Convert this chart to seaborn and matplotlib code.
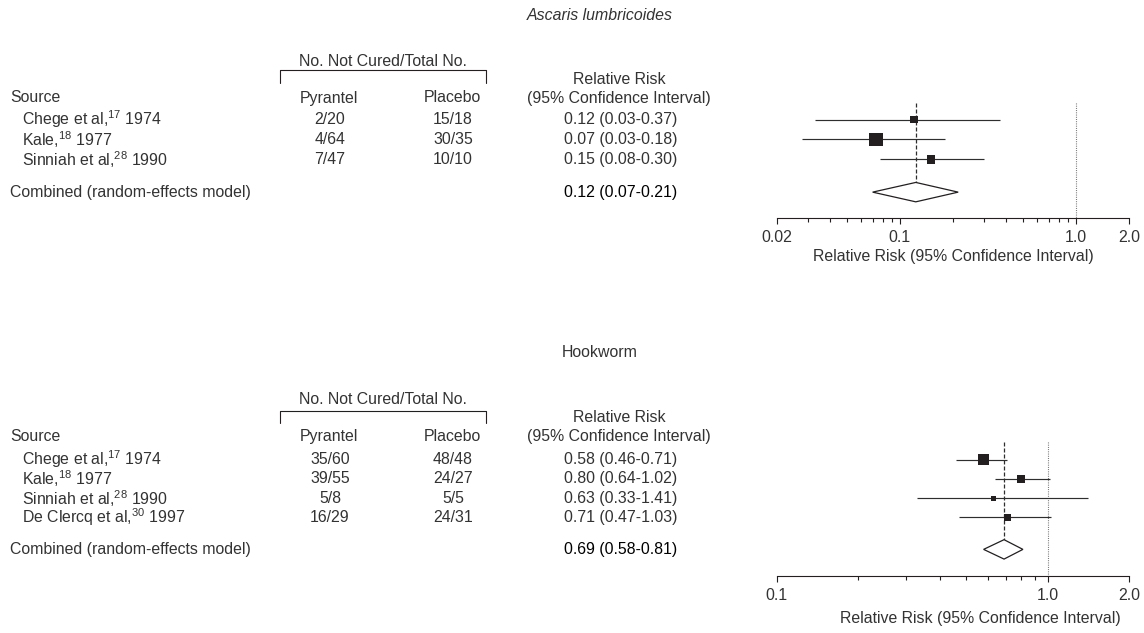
import numpy as np
import pandas as pd
import matplotlib
matplotlib.use("Agg")
import matplotlib.pyplot as plt
import seaborn as sns
from matplotlib.patches import Polygon
from matplotlib.lines import Line2D
from matplotlib.transforms import blended_transform_factory
from matplotlib.ticker import FixedLocator, FixedFormatter, NullFormatter

# ---------------- data ----------------
asc_title = "Ascaris lumbricoides"
asc_sources = ["Chege et al,$^{\\mathregular{17}}$ 1974",
               "Kale,$^{\\mathregular{18}}$ 1977",
               "Sinniah et al,$^{\\mathregular{28}}$ 1990"]
asc_pyrantel = ["2/20", "4/64", "7/47"]
asc_placebo = ["15/18", "30/35", "10/10"]
asc_rr = [0.12, 0.073, 0.15]
asc_lo = [0.033, 0.028, 0.077]
asc_hi = [0.37, 0.18, 0.30]
asc_weight = [18, 58, 24]
asc_comb_rr, asc_comb_lo, asc_comb_hi = 0.123, 0.07, 0.214
asc_major = [0.02, 0.1, 1.0, 2.0]
asc_major_labels = ["0.02", "0.1", "1.0", "2.0"]
asc_minor = [0.03, 0.04, 0.05, 0.06, 0.07, 0.08, 0.09,
             0.2, 0.3, 0.4, 0.5, 0.6, 0.7, 0.8, 0.9]

hook_title = "Hookworm"
hook_sources = ["Chege et al,$^{\\mathregular{17}}$ 1974",
                "Kale,$^{\\mathregular{18}}$ 1977",
                "Sinniah et al,$^{\\mathregular{28}}$ 1990",
                "De Clercq et al,$^{\\mathregular{30}}$ 1997"]
hook_pyrantel = ["35/60", "39/55", "5/8", "16/29"]
hook_placebo = ["48/48", "24/27", "5/5", "24/31"]
hook_rr = [0.58, 0.80, 0.63, 0.71]
hook_lo = [0.46, 0.64, 0.33, 0.47]
hook_hi = [0.71, 1.02, 1.41, 1.03]
hook_weight = [46, 26, 9, 20]
hook_comb_rr, hook_comb_lo, hook_comb_hi = 0.69, 0.58, 0.81
hook_major = [0.1, 1.0, 2.0]
hook_major_labels = ["0.1", "1.0", "2.0"]
hook_minor = [0.2, 0.3, 0.4, 0.5, 0.6, 0.7, 0.8, 0.9]

# ---------------- style ----------------
sns.set_theme(style="white")
plt.rcParams["font.family"] = ["Liberation Sans", "DejaVu Sans"]
plt.rcParams["mathtext.fontset"] = "custom"
plt.rcParams["mathtext.rm"] = "Liberation Sans"
INK = "#231f20"
TXT = "#333333"
LINE = "#2e2e2e"
FS = 11.4

W, H = 1144, 633
fig = plt.figure(figsize=(W / 100, H / 100), dpi=100)
fig.patch.set_facecolor("white")


def fx(px):
    return px / W


def fy(py):
    return 1 - py / H


def panel(title, title_italic, sources, pyr, pla, rr, lo, hi, weight,
          comb, major, major_labels, minor, lay):
    x0, x1 = lay["x0"], lay["x1"]
    top, spine = lay["top"], lay["spine"]
    row0, step = lay["row0"], lay["step"]
    ax = fig.add_axes([fx(x0), fy(spine), fx(x1) - fx(x0), (spine - top) / H])
    ax.set_facecolor("none")
    ax.set_xscale("log")
    ax.set_xlim(major[0], major[-1])
    ax.set_ylim((spine - row0) / step, (top - row0) / step)

    n = len(rr)
    rows = np.arange(n)
    comb_y = n - 1 + 1.65
    half = 9.7 / step

    # confidence intervals
    ax.hlines(rows, lo, hi, color=LINE, lw=0.85, zorder=2)
    # study squares (area proportional to weight)
    df = pd.DataFrame({"rr": rr, "row": rows, "w": weight})
    areas = df["w"].values * lay["kscale"] * 0.72 ** 2
    sns.scatterplot(data=df, x="rr", y="row", marker="s", s=areas,
                    color=INK, linewidth=0, ax=ax, legend=False, zorder=3)
    # combined diamond
    crr, clo, chi = comb
    ax.add_patch(Polygon([(clo, comb_y), (crr, comb_y - half),
                          (chi, comb_y), (crr, comb_y + half)],
                         closed=True, facecolor="white", edgecolor=INK,
                         lw=0.9, zorder=3))
    ylim_top = ax.get_ylim()[1]
    ax.vlines(crr, ylim_top, comb_y - half, color=LINE, lw=0.9,
              linestyles=(0, (3.2, 1.6)), zorder=1)
    ax.vlines(1.0, ylim_top, ax.get_ylim()[0], color="#666666", lw=0.8,
              linestyles=(0, (0.8, 1.2)), zorder=1)

    # axes styling
    for s in ["left", "top", "right"]:
        ax.spines[s].set_visible(False)
    ax.spines["bottom"].set_color(INK)
    ax.spines["bottom"].set_linewidth(0.8)
    ax.set_yticks([])
    ax.set_ylabel("")
    ax.xaxis.set_major_locator(FixedLocator(major))
    ax.xaxis.set_major_formatter(FixedFormatter(major_labels))
    ax.xaxis.set_minor_locator(FixedLocator(minor))
    ax.xaxis.set_minor_formatter(NullFormatter())
    ax.tick_params(axis="x", which="major", length=4.2, width=0.8,
                   direction="out", pad=4.5, labelsize=FS, colors=INK,
                   labelcolor=TXT, bottom=True)
    ax.tick_params(axis="x", which="minor", length=3.2, width=0.8,
                   direction="out", colors=INK, bottom=True)
    ax.set_xlabel("Relative Risk (95% Confidence Interval)", fontsize=FS,
                  color=TXT)
    ax.xaxis.label.set_va("center")
    ax.xaxis.set_label_coords(lay["xlab_x"],
                              -(lay["xlab_y"] - spine) / (spine - top))

    # table text
    blend = blended_transform_factory(fig.transFigure, ax.transData)
    kw = dict(transform=blend, va="center", fontsize=FS, color=TXT)
    for i in range(n):
        ax.text(fx(21.5), i, sources[i], ha="left", **kw)
        ax.text(fx(330), i, pyr[i], ha="center", **kw)
        ax.text(fx(453), i, pla[i], ha="center", **kw)
        ax.text(fx(621), i, f"{rr[i]:.2f} ({lo[i]:.2f}-{hi[i]:.2f})",
                ha="center", **kw)
    ax.text(fx(10), comb_y, "Combined (random-effects model)", ha="left", **kw)
    ax.text(fx(621), comb_y, f"{crr:.2f} ({clo:.2f}-{chi:.2f})",
            ha="center", **dict(kw, color="black"))

    # headers
    hkw = dict(va="center", fontsize=FS, color=TXT)
    fig.text(fx(600), fy(lay["title"]), title, ha="center",
             style="italic" if title_italic else "normal", **hkw)
    fig.text(fx(383), fy(lay["nnc"]), "No. Not Cured/Total No.",
             ha="center", **hkw)
    b0, b1 = lay["br"]
    fig.add_artist(Line2D([fx(280), fx(280), fx(486), fx(486)],
                          [fy(b1), fy(b0), fy(b0), fy(b1)],
                          transform=fig.transFigure, color=INK, lw=0.8))
    fig.text(fx(619), fy(lay["rrh"]), "Relative Risk", ha="center", **hkw)
    fig.text(fx(10), fy(lay["src"]), "Source", ha="left", **hkw)
    fig.text(fx(329), fy(lay["src"]), "Pyrantel", ha="center", **hkw)
    fig.text(fx(452), fy(lay["src"]), "Placebo", ha="center", **hkw)
    fig.text(fx(619), fy(lay["src"]), "(95% Confidence Interval)",
             ha="center", **hkw)
    return ax


top_layout = dict(x0=776.7, x1=1129.3, top=102.7, spine=218, row0=119.5,
                  step=19.9, kscale=3.24, xlab_x=0.5, xlab_y=256,
                  title=15, nnc=61.5, br=(70, 83), rrh=79.3, src=98)
bot_layout = dict(x0=776.7, x1=1129.3, top=441.7, spine=575.5, row0=459.5,
                  step=19.33, kscale=2.48, xlab_x=0.578, xlab_y=619,
                  title=353, nnc=400, br=(411, 422.5), rrh=417.7, src=436.7)

panel(asc_title, True, asc_sources, asc_pyrantel, asc_placebo,
      asc_rr, asc_lo, asc_hi, asc_weight,
      (asc_comb_rr, asc_comb_lo, asc_comb_hi),
      asc_major, asc_major_labels, asc_minor, top_layout)
panel(hook_title, False, hook_sources, hook_pyrantel, hook_placebo,
      hook_rr, hook_lo, hook_hi, hook_weight,
      (hook_comb_rr, hook_comb_lo, hook_comb_hi),
      hook_major, hook_major_labels, hook_minor, bot_layout)

fig.savefig("out.png", dpi=100, facecolor="white")
